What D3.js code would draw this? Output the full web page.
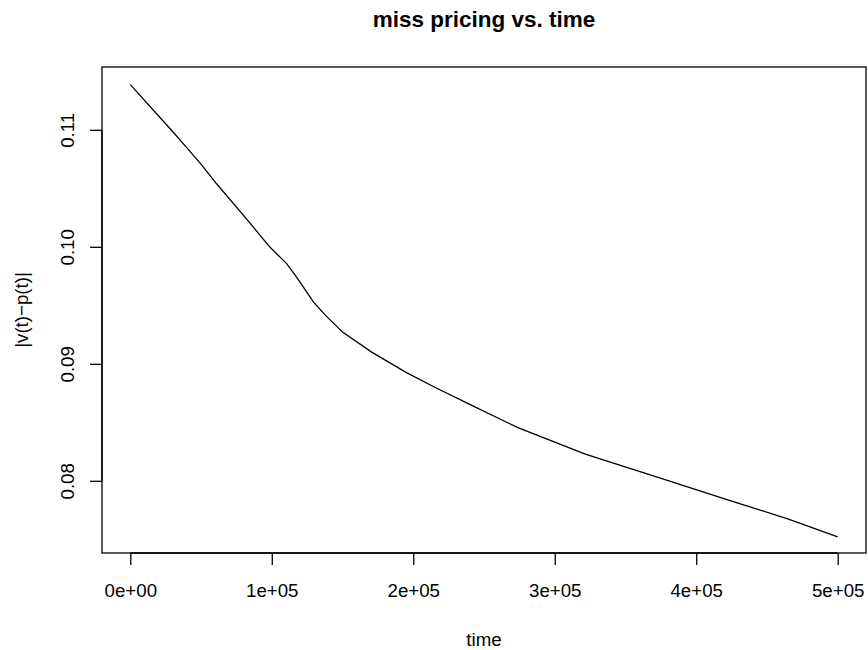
<!DOCTYPE html>
<html>
<head>
<meta charset="utf-8">
<script src="https://cdn.jsdelivr.net/npm/d3@7"></script>
<style>
  html, body { margin: 0; padding: 0; background: #fff; }
  svg { display: block; font-family: "Liberation Sans", Arial, Helvetica, sans-serif; }
</style>
</head>
<body>
<svg id="chart" width="868" height="650"></svg>
<script>
// ---- data ----
const times = [0, 29900, 40200, 50400, 60700, 84800, 98500, 110500, 117400, 129400, 138000,
               150000, 170600, 194600, 215200, 239200, 273500, 321600, 373000, 424500, 465700, 500000];
const missPricing = [0.11386, 0.10986, 0.10843, 0.1070, 0.10543, 0.1020, 0.1000, 0.09857, 0.09743, 0.09529, 0.09414,
                     0.09271, 0.0910, 0.08929, 0.0880, 0.08657, 0.08457, 0.08229, 0.08029, 0.07829, 0.07671, 0.07520];
const xTicks = [0, 100000, 200000, 300000, 400000, 500000];
const xTickLabels = ["0e+00", "1e+05", "2e+05", "3e+05", "4e+05", "5e+05"];
const yTicks = [0.08, 0.09, 0.10, 0.11];
const yTickLabels = ["0.08", "0.09", "0.10", "0.11"];
const titleText = "miss pricing vs. time";
const xLabel = "time";
const yLabel = "|v(t)\u2212p(t)|";

// ---- layout ----
const svg = d3.select("#chart");
const box = { left: 102, right: 866, top: 67, bottom: 553 };

const xr = d3.extent(times), yr = d3.extent(missPricing);
const xPad = (xr[1] - xr[0]) * 0.04, yPad = (yr[1] - yr[0]) * 0.04;
const x = d3.scaleLinear().domain([xr[0] - xPad, xr[1] + xPad]).range([box.left, box.right]);
const y = d3.scaleLinear().domain([0.07383, 0.11537]).range([box.bottom, box.top]);

const fs = 18.7;

// plot box
svg.append("rect")
  .attr("x", box.left).attr("y", box.top)
  .attr("width", box.right - box.left).attr("height", box.bottom - box.top)
  .attr("fill", "none").attr("stroke", "#000").attr("stroke-width", 1.3);

// line
const line = d3.line().x((d, i) => x(times[i])).y(d => y(d)).curve(d3.curveLinear);
svg.append("path").datum(missPricing)
  .attr("d", line).attr("fill", "none").attr("stroke", "#000").attr("stroke-width", 1.3);

// x axis
const xAxis = svg.append("g").attr("transform", `translate(0,${box.bottom})`)
  .call(d3.axisBottom(x).tickValues(xTicks).tickSize(12).tickFormat((d, i) => xTickLabels[i]));
xAxis.select(".domain").attr("d", `M${x(xTicks[0])},0H${x(xTicks[xTicks.length-1])}`).attr("stroke-width", 1.3);
xAxis.selectAll(".tick line").attr("stroke-width", 1.3);
xAxis.selectAll(".tick text").attr("font-size", fs).attr("font-family", "Liberation Sans, Arial, sans-serif")
  .attr("fill", "#000").attr("dy", null).attr("y", 43.7);

// y axis
const yAxis = svg.append("g").attr("transform", `translate(${box.left},0)`)
  .call(d3.axisLeft(y).tickValues(yTicks).tickSize(12).tickFormat((d, i) => yTickLabels[i]));
yAxis.select(".domain").attr("d", `M0,${y(yTicks[0])}V${y(yTicks[yTicks.length-1])}`).attr("stroke-width", 1.3);
yAxis.selectAll(".tick line").attr("stroke-width", 1.3);
yAxis.selectAll(".tick text").attr("font-size", fs).attr("font-family", "Liberation Sans, Arial, sans-serif")
  .attr("fill", "#000").attr("x", null).attr("dy", null)
  .attr("text-anchor", "middle")
  .attr("transform", "translate(-28,0) rotate(-90)");

// title
svg.append("text").attr("x", (box.left + box.right) / 2).attr("y", 27)
  .attr("text-anchor", "middle").attr("font-weight", "bold").attr("font-size", 22.5)
  .text(titleText);

// x label
svg.append("text").attr("x", (box.left + box.right) / 2).attr("y", 646)
  .attr("text-anchor", "middle").attr("font-size", fs).text(xLabel);

// y label
svg.append("text").attr("transform", `translate(28,${(box.top + box.bottom) / 2}) rotate(-90)`)
  .attr("text-anchor", "middle").attr("font-size", fs).text(yLabel);
</script>
</body>
</html>
